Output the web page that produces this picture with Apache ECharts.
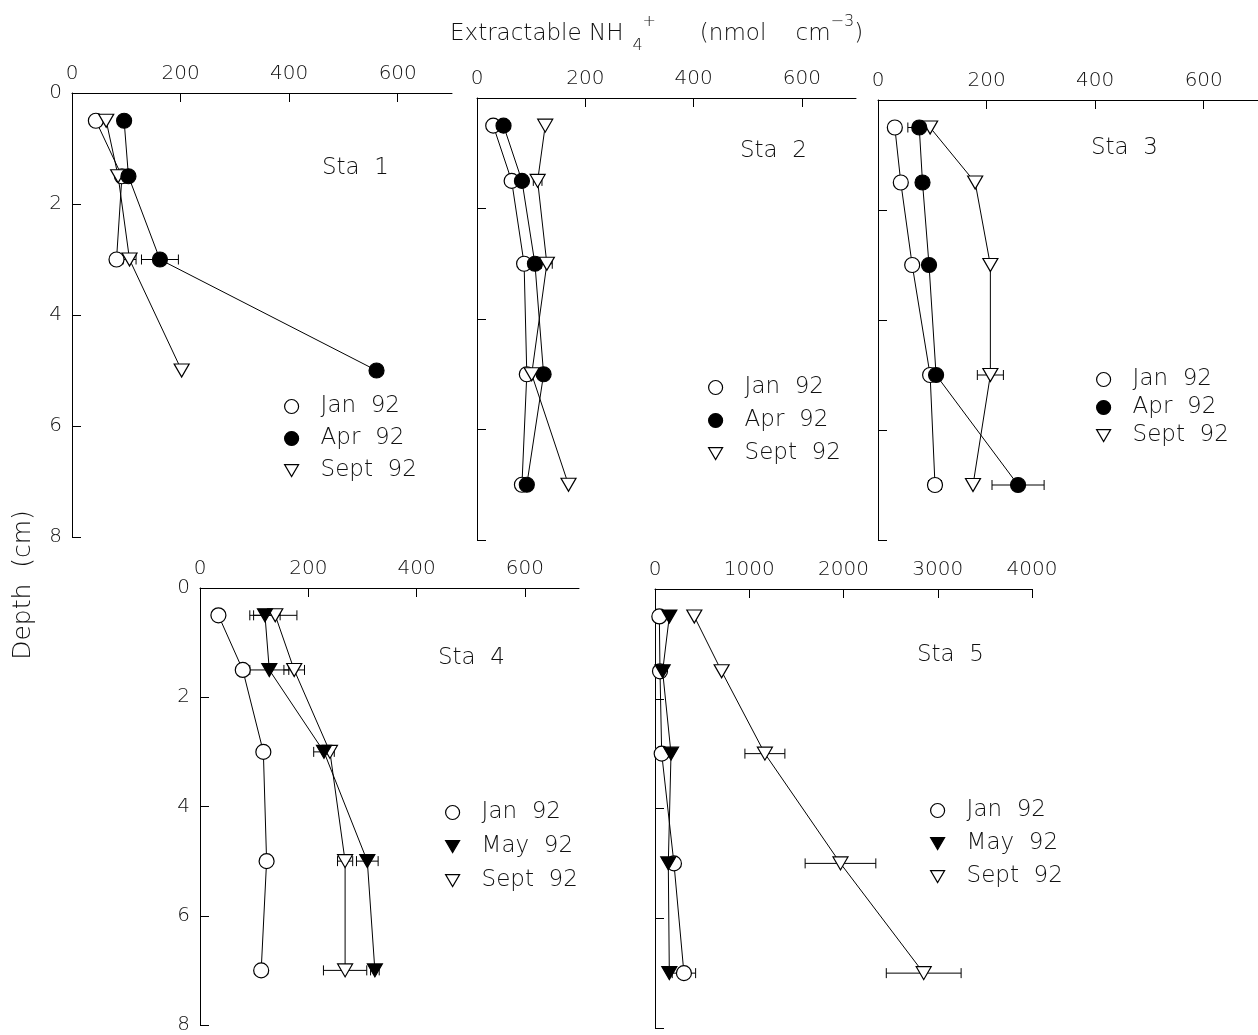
<!DOCTYPE html>
<html>
<head>
<meta charset="utf-8">
<script src="https://cdn.jsdelivr.net/npm/echarts@6/dist/echarts.min.js"></script>
<style>
  html, body { margin: 0; padding: 0; background: #fff; }
  #chart { width: 1258px; height: 1035px; }
</style>
</head>
<body>
<div id="chart"></div>
<script>
// depths (cm)
var depthSta1 = [0.5, 1.5, 3, 5];
var depthAll = [0.5, 1.5, 3, 5, 7];

// Sta 1
var sta1Jan = [44, 92, 82];
var sta1Apr = [96, 104, 162, 561];
var sta1AprErr = [0, 0, 34, 0];
var sta1Sept = [63, 85, 106, 202];
var sta1SeptErr = [0, 0, 12, 0];

// Sta 2
var sta2Jan = [30, 64, 87, 92, 83];
var sta2Apr = [49, 83, 107, 123, 92];
var sta2Sept = [126, 112, 129, 101, 169];
var sta2SeptErr = [0, 8, 10, 0, 0];

// Sta 3
var sta3Jan = [31, 42, 63, 96, 105];
var sta3JanErr = [0, 0, 0, 0, 12];
var sta3Apr = [76, 82, 94, 107, 258];
var sta3AprErr = [21, 10, 0, 0, 48];
var sta3Sept = [96, 179, 207, 207, 175];
var sta3SeptErr = [0, 0, 0, 24, 0];

// Sta 4
var sta4Jan = [34, 79, 117, 123, 113];
var sta4May = [120, 128, 229, 309, 323];
var sta4MayErr = [28, 36, 19, 20, 8];
var sta4Sept = [139, 174, 240, 268, 268];
var sta4SeptErr = [40, 19, 0, 14, 40];

// Sta 5
var sta5Jan = [46, 53, 71, 201, 307];
var sta5JanErr = [0, 0, 0, 0, 124];
var sta5May = [152, 81, 170, 141, 152];
var sta5Sept = [417, 707, 1166, 1968, 2851];
var sta5SeptErr = [0, 0, 212, 375, 397];

var ticksSmall = [0, 200, 400, 600];
var ticksBig = [0, 1000, 2000, 3000, 4000];
var depthTicks = [0, 2, 4, 6, 8];

var FONT = 'DejaVu Sans';
var INK = '#111';
var DOWN_TRI = 'path://M0,0 L20,0 L10,17 Z';

// 面板位置
var panels = [
    {left: 72,  top: 93,  width: 380, height: 444, max: 700,  ticks: ticksSmall, yLabels: true},
    {left: 477, top: 98,  width: 379, height: 442, max: 700,  ticks: ticksSmall, yLabels: false},
    {left: 878, top: 100, width: 380, height: 440, max: 700,  ticks: ticksSmall, yLabels: false},
    {left: 200, top: 588, width: 379, height: 442, max: 700,  ticks: ticksSmall, yLabels: true},
    {left: 655, top: 589, width: 377, height: 439, max: 4000, ticks: ticksBig,   yLabels: false}
];

var symJan  = {symbol: 'circle', size: 15, fill: '#fff'};
var symApr  = {symbol: 'circle', size: 15, fill: '#000'};
var symMay  = {symbol: DOWN_TRI, size: [15, 13], fill: '#000'};
var symSept = {symbol: DOWN_TRI, size: [15, 13], fill: '#fff'};

function lineSeries(name, idx, vals, depths, sym) {
    var data = [];
    for (var i = 0; i < vals.length; i++) data.push([vals[i], depths[i]]);
    return {
        name: name,
        type: 'line',
        xAxisIndex: idx,
        yAxisIndex: idx,
        data: data,
        symbol: sym.symbol,
        symbolSize: sym.size,
        showAllSymbol: true,
        itemStyle: {color: sym.fill, borderColor: '#000', borderWidth: 1.2},
        lineStyle: {color: '#000', width: 1},
        z: 3
    };
}

//误差线
function errSeries(idx, vals, errs, depths) {
    var data = [];
    for (var i = 0; i < vals.length; i++) {
        if (errs[i]) data.push([vals[i], depths[i], errs[i]]);
    }
    return {
        type: 'custom',
        xAxisIndex: idx,
        yAxisIndex: idx,
        silent: true,
        z: 2,
        encode: {x: 0, y: 1},
        data: data,
        renderItem: function (params, api) {
            var v = api.value(0), d = api.value(1), e = api.value(2);
            var lo = api.coord([v - e, d]);
            var hi = api.coord([v + e, d]);
            var h = 5;
            var st = {stroke: '#000', lineWidth: 1};
            return {
                type: 'group',
                children: [
                    {type: 'line', shape: {x1: lo[0], y1: lo[1], x2: hi[0], y2: hi[1]}, style: st},
                    {type: 'line', shape: {x1: lo[0], y1: lo[1] - h, x2: lo[0], y2: lo[1] + h}, style: st},
                    {type: 'line', shape: {x1: hi[0], y1: hi[1] - h, x2: hi[0], y2: hi[1] + h}, style: st}
                ]
            };
        }
    };
}

function legendItem(name, sym) {
    return {
        name: name,
        icon: sym.symbol === 'circle' ? 'circle' : DOWN_TRI,
        itemStyle: {color: sym.fill, borderColor: '#000', borderWidth: 1.2}
    };
}

function makeLegend(left, top, gap, names, syms) {
    var data = [];
    for (var i = 0; i < names.length; i++) data.push(legendItem(names[i], syms[i]));
    return {
        orient: 'vertical',
        left: left,
        top: top,
        itemGap: gap,
        itemWidth: 14,
        itemHeight: 14,
        padding: 0,
        selectedMode: false,
        data: data,
        formatter: function (name) { return name.replace(' ', '  '); },
        textStyle: {fontFamily: FONT, fontWeight: 200, fontSize: 23, color: INK, padding: [0, 0, 0, 17]}
    };
}

var grids = [], xAxes = [], yAxes = [];
panels.forEach(function (p, i) {
    grids.push({left: p.left, top: p.top, width: p.width, height: p.height});
    xAxes.push({
        type: 'value',
        gridIndex: i,
        position: 'top',
        min: 0,
        max: p.max,
        splitLine: {show: false},
        axisLine: {lineStyle: {color: '#000', width: 1}},
        axisTick: {inside: true, length: 9, customValues: p.ticks, lineStyle: {color: '#000'}},
        axisLabel: {
            customValues: p.ticks, margin: 9,
            formatter: function (v) { return String(v); },
            fontFamily: FONT, fontWeight: 200, fontSize: 20, color: INK
        }
    });
    yAxes.push({
        type: 'value',
        gridIndex: i,
        inverse: true,
        min: 0,
        max: 8,
        interval: 2,
        splitLine: {show: false},
        axisLine: {lineStyle: {color: '#000', width: 1}},
        axisTick: {inside: true, length: 9, customValues: depthTicks, lineStyle: {color: '#000'}},
        axisLabel: {show: p.yLabels, customValues: depthTicks, margin: 10, fontFamily: FONT, fontWeight: 200, fontSize: 20, color: INK}
    });
});

var series = [
    errSeries(0, sta1Apr, sta1AprErr, depthSta1),
    errSeries(0, sta1Sept, sta1SeptErr, depthSta1),
    lineSeries('Jan 92', 0, sta1Jan, depthSta1, symJan),
    lineSeries('Sept 92', 0, sta1Sept, depthSta1, symSept),
    lineSeries('Apr 92', 0, sta1Apr, depthSta1, symApr),

    errSeries(1, sta2Sept, sta2SeptErr, depthAll),
    lineSeries('Jan 92', 1, sta2Jan, depthAll, symJan),
    lineSeries('Apr 92', 1, sta2Apr, depthAll, symApr),
    lineSeries('Sept 92', 1, sta2Sept, depthAll, symSept),

    errSeries(2, sta3Jan, sta3JanErr, depthAll),
    errSeries(2, sta3Apr, sta3AprErr, depthAll),
    errSeries(2, sta3Sept, sta3SeptErr, depthAll),
    lineSeries('Jan 92', 2, sta3Jan, depthAll, symJan),
    lineSeries('Sept 92', 2, sta3Sept, depthAll, symSept),
    lineSeries('Apr 92', 2, sta3Apr, depthAll, symApr),

    errSeries(3, sta4May, sta4MayErr, depthAll),
    errSeries(3, sta4Sept, sta4SeptErr, depthAll),
    lineSeries('Jan 92', 3, sta4Jan, depthAll, symJan),
    lineSeries('Sept 92', 3, sta4Sept, depthAll, symSept),
    lineSeries('May 92', 3, sta4May, depthAll, symMay),

    errSeries(4, sta5Jan, sta5JanErr, depthAll),
    errSeries(4, sta5Sept, sta5SeptErr, depthAll),
    lineSeries('Jan 92', 4, sta5Jan, depthAll, symJan),
    lineSeries('May 92', 4, sta5May, depthAll, symMay),
    lineSeries('Sept 92', 4, sta5Sept, depthAll, symSept)
];

function staLabel(text, x, y) {
    return {
        type: 'text', left: x, top: y,
        style: {text: text, fontFamily: FONT, fontWeight: 200, fontSize: 23, fill: INK}
    };
}

var myChart = echarts.init(document.getElementById('chart'), null, {renderer: 'canvas'});
var option = {
    animation: false,
    backgroundColor: '#fff',
    grid: grids,
    xAxis: xAxes,
    yAxis: yAxes,
    legend: [
        makeLegend(284, 395, 9,  ['Jan 92', 'Apr 92', 'Sept 92'], [symJan, symApr, symSept]),
        makeLegend(708, 376, 10, ['Jan 92', 'Apr 92', 'Sept 92'], [symJan, symApr, symSept]),
        makeLegend(1096, 368, 5, ['Jan 92', 'Apr 92', 'Sept 92'], [symJan, symApr, symSept]),
        makeLegend(445, 801, 11, ['Jan 92', 'May 92', 'Sept 92'], [symJan, symMay, symSept]),
        makeLegend(930, 799, 10, ['Jan 92', 'May 92', 'Sept 92'], [symJan, symMay, symSept])
    ],
    graphic: [
        {
            type: 'text', left: 450, top: 14,
            style: {
                text: '{a|Extractable NH}{b|4}{c|+}{a|      (nmol    cm}{c|−3}{a|)}',
                fill: INK,
                rich: {
                    a: {fontFamily: FONT, fontWeight: 200, fontSize: 23, lineHeight: 40, verticalAlign: 'middle', color: INK},
                    b: {fontFamily: FONT, fontWeight: 200, fontSize: 16, lineHeight: 16, verticalAlign: 'bottom', color: INK, padding: [0, 0, 0, 9]},
                    c: {fontFamily: FONT, fontWeight: 200, fontSize: 16, lineHeight: 16, verticalAlign: 'top', color: INK}
                }
            }
        },
        {
            type: 'text', x: 23, y: 585, rotation: Math.PI / 2,
            style: {text: 'Depth  (cm)', fontFamily: FONT, fontWeight: 200, fontSize: 25, fill: INK, align: 'center', verticalAlign: 'middle'}
        },
        staLabel('Sta  1', 322, 157),
        staLabel('Sta  2', 740, 140),
        staLabel('Sta  3', 1091, 137),
        staLabel('Sta  4', 438, 647),
        staLabel('Sta  5', 917, 644)
    ],
    series: series
};
myChart.setOption(option);
</script>
</body>
</html>
